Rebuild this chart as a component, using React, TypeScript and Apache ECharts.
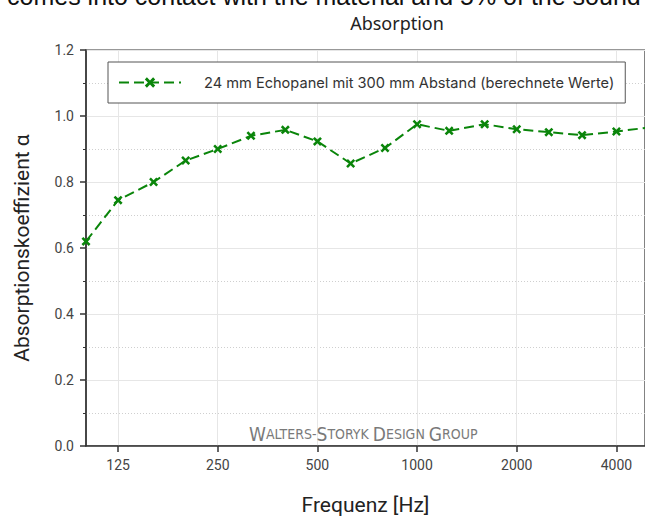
import React, { useEffect, useRef } from "react";
import * as echarts from "echarts";

const frequencies = [100, 125, 160, 200, 250, 315, 400, 500, 630, 800, 1000, 1250, 1600, 2000, 2500, 3150, 4000, 5000];
const absorption = [0.62, 0.745, 0.8, 0.865, 0.9, 0.94, 0.958, 0.923, 0.856, 0.903, 0.975, 0.955, 0.975, 0.96, 0.951, 0.942, 0.953, 0.965];
const xTickValues = [125, 250, 500, 1000, 2000, 4000];
const seriesName = "24 mm Echopanel mit 300 mm Abstand (berechnete Werte)";
const titleText = "Absorption";
const xAxisTitle = "Frequenz [Hz]";
const yAxisTitle = "Absorptionskoeffizient α";
const pageText = "comes into contact with the material and 5% of the sound";

const GREEN = "#0a850a";
const FONT = "Roboto, 'Noto Sans', sans-serif";
const X_SYMBOL = "path://M2,0 L5,3 L8,0 L10,2 L7,5 L10,8 L8,10 L5,7 L2,10 L0,8 L3,5 L0,2 Z";

export default function App() {
  const ref = useRef<HTMLDivElement>(null);
  useEffect(() => {
    if (!ref.current) return;
    const chart = echarts.init(ref.current, undefined, { renderer: "svg" });
    chart.setOption({
      animation: false,
      backgroundColor: "#fff",
      title: {
        text: titleText,
        left: 392,
        top: 9,
        textAlign: "center",
        textStyle: { fontFamily: "'Noto Sans', Roboto, sans-serif", fontSize: 18, fontWeight: "normal", color: "#222" },
      },
      grid: { left: 86, right: -2, top: 50, bottom: 72, show: true, borderColor: "#333", borderWidth: 1.2, backgroundColor: "transparent" },
      legend: {
        left: 108,
        top: 62,
        orient: "horizontal",
        backgroundColor: "#fff",
        borderColor: "#555",
        borderWidth: 1,
        borderRadius: 0,
        padding: [13, 11, 13, 10],
        itemWidth: 62,
        itemHeight: 13,
        textStyle: { fontFamily: "Inter, 'Noto Sans', sans-serif", fontSize: 14.6, color: "#333", padding: [0, 0, 0, 18] },
        data: [seriesName],
      },
      xAxis: {
        type: "log",
        logBase: 2,
        min: 100,
        max: 4880,
        name: xAxisTitle,
        nameLocation: "middle",
        nameGap: 48,
        nameTextStyle: { fontFamily: FONT, fontSize: 21, color: "#222" },
        axisLine: { show: true, lineStyle: { color: "#333", width: 1.5 } },
        axisTick: { show: true, inside: false, length: 6, customValues: xTickValues, lineStyle: { color: "#333", width: 1.5 } },
        axisLabel: { customValues: xTickValues, margin: 12, fontFamily: FONT, fontSize: 14, color: "#444", formatter: (v: number) => String(Math.round(v)) },
        splitLine: { show: true, lineStyle: { color: "#e6e6e6", width: 1 } },
        minorTick: { show: false },
      },
      yAxis: {
        type: "value",
        min: 0,
        max: 1.2,
        interval: 0.2,
        name: yAxisTitle,
        nameLocation: "middle",
        nameGap: 54,
        nameTextStyle: { fontFamily: FONT, fontSize: 21, color: "#222" },
        axisLine: { show: true, lineStyle: { color: "#333", width: 1.5 } },
        axisTick: { show: true, inside: false, length: 6, lineStyle: { color: "#333", width: 1.5 } },
        minorTick: { show: true, splitNumber: 2, length: 3, lineStyle: { color: "#333", width: 1 } },
        axisLabel: { margin: 12, fontFamily: FONT, fontSize: 14, color: "#444", formatter: (v: number) => v.toFixed(1) },
        splitLine: { show: true, lineStyle: { color: "#e6e6e6", width: 1 } },
        minorSplitLine: { show: true, lineStyle: { color: "#cfcfcf", width: 1, type: [1, 2] } },
      },
      graphic: [
        {
          type: "text",
          left: 7,
          top: -17,
          style: { text: pageText, fontFamily: "'Liberation Sans', Arial, sans-serif", fontSize: 25, fill: "#111" },
        },
        {
          type: "text",
          left: 249,
          top: 424,
          z: 1,
          style: {
            text: "{a|W}{b|ALTERS-}{a|S}{b|TORYK }{a|D}{b|ESIGN }{a|G}{b|ROUP}",
            rich: {
              a: { fontFamily: "'DejaVu Sans Condensed', 'Liberation Sans', sans-serif", fontSize: 19, fill: "#7a7a7a", color: "#7a7a7a" },
              b: { fontFamily: "'DejaVu Sans Condensed', 'Liberation Sans', sans-serif", fontSize: 14, fill: "#7a7a7a", color: "#7a7a7a" },
            },
          },
        },
      ],
      series: [
        {
          name: seriesName,
          type: "line",
          data: frequencies.map((f, i) => [f, absorption[i]]),
          symbol: X_SYMBOL,
          symbolSize: 9,
          showAllSymbol: true,
          clip: true,
          lineStyle: { color: GREEN, width: 2, type: [10, 5] },
          itemStyle: { color: GREEN, borderWidth: 0 },
          z: 3,
        },
      ],
    });
    return () => chart.dispose();
  }, []);
  return <div ref={ref} style={{ position: "absolute", left: 0, top: 0, width: 645, height: 520 }} />;
}
